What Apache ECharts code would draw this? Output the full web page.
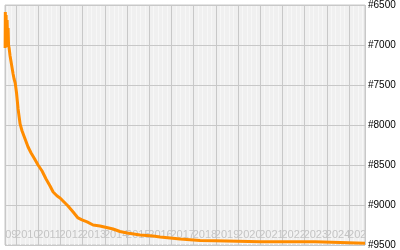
<!DOCTYPE html>
<html>
<head>
<meta charset="utf-8">
<script src="https://cdn.jsdelivr.net/npm/echarts@6/dist/echarts.min.js"></script>
<style>html,body{margin:0;padding:0;background:#fff}#c{width:400px;height:250px}</style>
</head>
<body>
<div id="c"></div>
<script>
// decimal year, rank
var years = [2009.505,2009.514,2009.532,2009.55,2009.572,2009.595,2009.617,2009.64,2009.66,2009.685,2009.73,2009.775,2009.82,2009.865,2009.91,2009.96,2010.02,2010.09,2010.18,2010.27,2010.405,2010.54,2010.676,2010.81,2010.99,2011.17,2011.35,2011.53,2011.67,2011.85,2011.98,2012.16,2012.34,2012.57,2012.79,2012.97,2013.2,2013.47,2013.78,2014.37,2014.68,2015.0,2015.59,2016.17,2016.49,2017.39,2018.29,2018.96,2019.0,2020.99,2023.47,2023.5,2025.72];
var ranks = [7037,6587,7000,6625,7025,6687,6937,6787,7000,7037,7137,7212,7287,7362,7425,7475,7600,7800,7987,8075,8175,8275,8350,8412,8500,8575,8675,8762,8837,8887,8912,8962,9012,9087,9162,9187,9212,9250,9262,9300,9331,9350,9375,9387,9400,9425,9444,9446,9459,9459,9460,9479,9479];
var yearLabels = [2009,2010,2011,2012,2013,2014,2015,2016,2017,2018,2019,2020,2021,2022,2023,2024,2025];
var rankTicks = [6500,7000,7500,8000,8500,9000,9500];

var lineData = years.map(function(y,i){return [y, ranks[i]];});
var chart = echarts.init(document.getElementById('c'), null, {renderer:'canvas'});
chart.setOption({
  animation:false,
  textStyle:{fontFamily:'Liberation Sans, Arial, sans-serif'},
  grid:{left:5,right:35,top:5,bottom:5,show:true,backgroundColor:'#f0f0f0',borderColor:'#c8c8c8',borderWidth:1},
  xAxis:{type:'value',z:0,min:2009.5,max:2025.72,splitNumber:16,
    axisLine:{show:false},axisTick:{show:false},axisLabel:{show:false},
    splitLine:{show:true,lineStyle:{color:'#c8c8c8',width:1,type:'solid'}},
    minorTick:{show:false,splitNumber:5},
    minorSplitLine:{show:true,lineStyle:{color:'#f7f7f7',width:1,type:'solid'}}},
  yAxis:{type:'value',z:1,position:'right',inverse:true,min:rankTicks[0],max:rankTicks[rankTicks.length-1],interval:500,
    axisLine:{show:false},axisTick:{show:false},
    axisLabel:{margin:3,color:'#000',fontSize:10,fontFamily:'Liberation Sans, Arial, sans-serif',formatter:function(v){return '#'+v;}},
    splitLine:{show:true,lineStyle:{color:'#c8c8c8',width:1,type:'solid'}}},
  series:[
    {type:'custom',clip:true,silent:true,z:1,data:yearLabels.map(function(y){return [y];}),encode:{x:0},
     renderItem:function(params,api){
       var p = api.coord([api.value(0), rankTicks[rankTicks.length-1]]);
       return {type:'text',style:{text:String(api.value(0)),x:p[0]-1,y:p[1]-10,align:'left',verticalAlign:'middle',
         fill:'#c4c4c4',font:'11px "Liberation Sans", Arial, sans-serif'}};
     }},
    {type:'line',z:3,data:lineData,showSymbol:false,symbol:'none',lineStyle:{color:'#ff8c00',width:3},itemStyle:{color:'#ff8c00'}}
  ]
});
</script>
</body>
</html>
